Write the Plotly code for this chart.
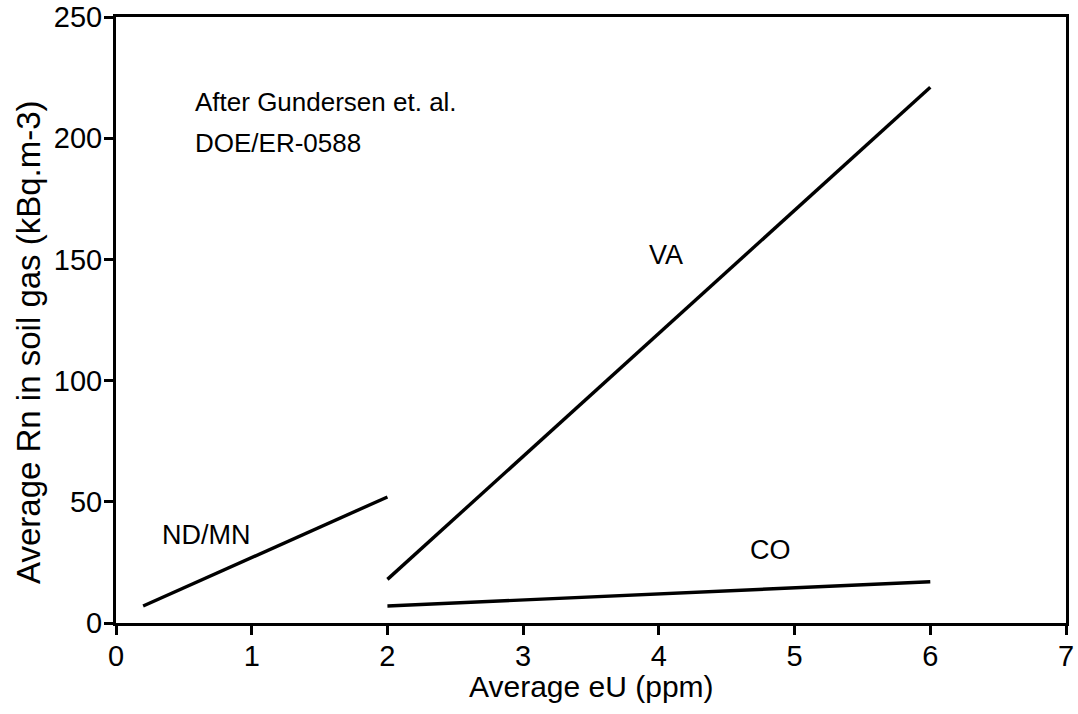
import plotly.graph_objects as go

nd_x = [0.2, 2.0]
nd_y = [7, 52]
va_x = [2.0, 6.0]
va_y = [18, 221]
co_x = [2.0, 6.0]
co_y = [7, 17]

x_ticks = [0, 1, 2, 3, 4, 5, 6, 7]
y_ticks = [0, 50, 100, 150, 200, 250]

labels = [("ND/MN", 0.67, 36.5), ("VA", 4.05, 152), ("CO", 4.82, 30)]
notes = [("After Gundersen et. al.", 0.57, 215), ("DOE/ER-0588", 0.57, 198)]
x_title = "Average eU (ppm)"
y_title = "Average Rn in soil gas (kBq.m-3)"

FONT = "Liberation Sans, Arial, sans-serif"

fig = go.Figure()
for xs, ys in [(nd_x, nd_y), (va_x, va_y), (co_x, co_y)]:
    fig.add_trace(go.Scatter(x=xs, y=ys, mode="lines",
                             line=dict(color="black", width=3.4), showlegend=False))

for t, x, y in labels:
    fig.add_annotation(x=x, y=y, text=t, showarrow=False,
                       font=dict(family=FONT, size=27, color="black"))
for t, x, y in notes:
    fig.add_annotation(x=x, y=y, text=t, showarrow=False, xanchor="left", yanchor="middle",
                       font=dict(family=FONT, size=26, color="black"))

# axis titles placed as paper annotations for precise positioning
fig.add_annotation(xref="paper", yref="paper", x=0.5, y=-0.1056, text=x_title,
                   showarrow=False, xanchor="center", yanchor="middle",
                   font=dict(family=FONT, size=30, color="black"))
fig.add_annotation(xref="paper", yref="paper", x=-0.0916, y=0.4637, text=y_title,
                   showarrow=False, xanchor="center", yanchor="middle", textangle=-90,
                   font=dict(family=FONT, size=33, color="black"))

axis_common = dict(showline=True, linecolor="black", linewidth=3, mirror=True,
                   ticks="outside", tickcolor="black", tickwidth=3, ticklen=9,
                   showgrid=False, zeroline=False, automargin=False,
                   ticklabelstandoff=-4, ticklabeloverflow="allow",
                   tickfont=dict(family=FONT, size=29, color="black"))
fig.update_xaxes(range=[0, 7], tickvals=x_ticks, **axis_common)
fig.update_yaxes(range=[0, 250], tickvals=y_ticks, **axis_common)
fig.update_layout(width=1078, height=714, margin=dict(l=116, r=12, t=17, b=91),
                  paper_bgcolor="white", plot_bgcolor="white")
fig.write_html("out.html", config={"displayModeBar": False},
               post_script="document.body.style.margin='0px';")
